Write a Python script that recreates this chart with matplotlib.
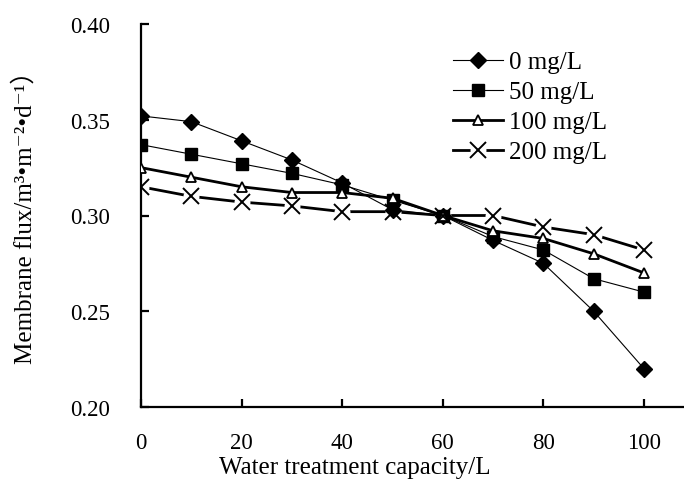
import matplotlib
matplotlib.use("Agg")
import matplotlib.pyplot as plt
from matplotlib.legend_handler import HandlerTuple

x_vals = [0, 10, 20, 30, 40, 50, 60, 70, 80, 90, 100]
c0 = [0.352, 0.349, 0.339, 0.329, 0.317, 0.303, 0.300, 0.287, 0.275, 0.250, 0.220]
c50 = [0.337, 0.332, 0.327, 0.322, 0.316, 0.308, 0.300, 0.289, 0.282, 0.267, 0.260]
c100 = [0.325, 0.320, 0.315, 0.312, 0.312, 0.309, 0.300, 0.292, 0.288, 0.280, 0.270]
c200 = [0.315, 0.310, 0.307, 0.305, 0.302, 0.302, 0.300, 0.300, 0.294, 0.290, 0.282]
labels = ["0 mg/L", "50 mg/L", "100 mg/L", "200 mg/L"]
x_ticks = [0, 20, 40, 60, 80, 100]
y_ticks = [0.20, 0.25, 0.30, 0.35, 0.40]

plt.rcParams['font.family'] = ['Liberation Serif', 'DejaVu Serif', 'Noto Sans CJK SC', 'DejaVu Sans']
FS = 16.5
FL = 18

W, H = 684, 481
fig = plt.figure(figsize=(W / 100, H / 100), dpi=100)
ax = fig.add_axes([141 / W, 1 - 408 / H, (W - 141) / W, (408 - 25) / H])

l0, = ax.plot(x_vals, c0, color='black', lw=0.8, marker='D', ms=7.8,
              mfc='black', mec='black', zorder=4)
l50, = ax.plot(x_vals, c50, color='black', lw=0.8, marker='s', ms=8.6,
               mfc='black', mec='black', zorder=4)
l100, = ax.plot(x_vals, c100, color='black', lw=2.0, marker='^', ms=7.5,
                mfc='white', mec='black', mew=1.3, zorder=4)
l200, = ax.plot(x_vals, c200, color='black', lw=2.0, zorder=2)
h200, = ax.plot(x_vals, c200, ls='none', marker='o', ms=11.5, mfc='white',
                mec='none', zorder=2.1)
m200, = ax.plot(x_vals, c200, ls='none', marker='x', ms=12, mec='black',
                mew=1.4, zorder=5)

ax.set_xlim(0, (W - 141) / 5.03)
ax.set_ylim(0.20, 0.40)
ax.set_xticks(x_ticks)
ax.set_yticks(y_ticks)
ax.set_yticklabels([f"{v:.2f}" for v in y_ticks])
ax.spines['top'].set_visible(False)
ax.spines['right'].set_visible(False)
for s in ('left', 'bottom'):
    ax.spines[s].set_linewidth(1.6)
ax.tick_params(axis='both', direction='in', length=5.5, width=1.6,
               labelsize=FS)
ax.tick_params(axis='y', pad=22)
ax.tick_params(axis='x', pad=18)

fig.text(355 / W, 1 - 457 / H, "Water treatment capacity/L", ha='center',
         va='top', fontsize=FL)
fig.text(25 / W, 1 - 211 / H,
         "Membrane flux/m³•m⁻²•d⁻¹）",
         rotation=90, ha='center', va='center', fontsize=FL)

leg = ax.legend([l0, l50, l100, (l200, h200, m200)], labels,
                handler_map={tuple: HandlerTuple(ndivide=1, pad=0)},
                frameon=False, fontsize=FL, loc='upper left',
                bbox_to_anchor=(453 / W, 1 - 52 / H),
                bbox_transform=fig.transFigure,
                handlelength=2.0, handletextpad=0.25, labelspacing=0.3,
                borderpad=0, borderaxespad=0)

fig.savefig("out.png", dpi=100)
